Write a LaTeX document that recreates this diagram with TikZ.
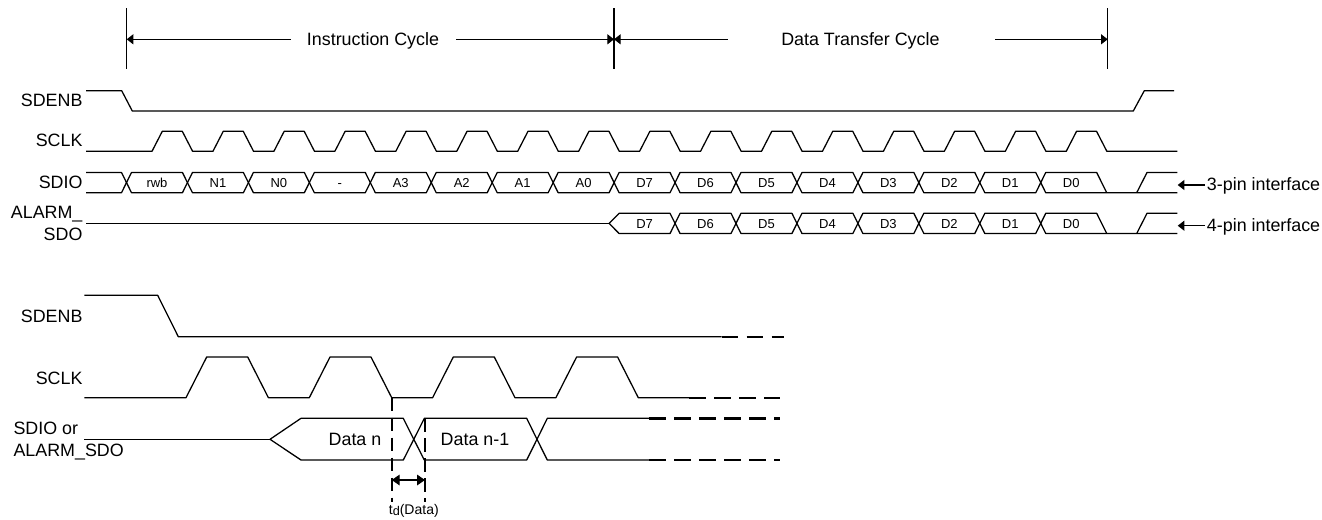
\documentclass[tikz,border=0pt]{standalone}
\usepackage{fontspec}
\setmainfont{Liberation Sans}
\usetikzlibrary{arrows.meta}
\begin{document}
\begin{tikzpicture}[x=0.75pt,y=-0.75pt,
  wave/.style={line width=0.95pt, line join=round},
  dsh/.style={line width=1.8pt, dash pattern=on 12.5pt off 6.25pt},
  dimarrow/.style={line width=0.95pt, -{Triangle[length=5pt,width=7.5pt]}},
  lbl/.style={font=\fontsize{13.4}{15.5}\selectfont, inner sep=0pt},
  bit/.style={font=\fontsize{9.75}{11}\selectfont, inner sep=0pt},
  tdl/.style={font=\fontsize{10.5}{12}\selectfont, inner sep=0pt}]
\useasboundingbox (0,0) rectangle (1322,519);

% ---------- top dimension lines ----------
\coordinate (v1t) at (126.7,8.3);  \coordinate (v1b) at (126.7,69.3);
\coordinate (v2t) at (614,8.3);    \coordinate (v2b) at (614,69.3);
\coordinate (v3t) at (1107.7,8.3); \coordinate (v3b) at (1107.7,69.3);
\draw[wave] (v1t) -- (v1b);
\draw[wave] (v2t) -- (v2b);
\draw[wave] (v3t) -- (v3b);
\coordinate (i1) at (126.7,39.3);
\coordinate (i1s) at (290.7,39.3);
\coordinate (i2s) at (456,39.3);
\coordinate (i2) at (614,39.3);
\coordinate (d1s) at (727.6,39.3);
\coordinate (d2s) at (995.4,39.3);
\coordinate (i3) at (1107.7,39.3);
\draw[dimarrow] (i1s) -- (i1);
\draw[dimarrow] (i2s) -- (i2);
\draw[dimarrow] (d1s) -- (i2);
\draw[dimarrow] (d2s) -- (i3);
\node[lbl,anchor=base] (ic) at (373,45.7) {Instruction Cycle};
\node[lbl,anchor=base] (dc) at (860.4,45.7) {Data Transfer Cycle};

% ---------- top labels ----------
\node[lbl,anchor=base east] (lsdenb) at (82.7,106) {SDENB};
\node[lbl,anchor=base east] (lsclk) at (82.7,146.7) {SCLK};
\node[lbl,anchor=base east] (lsdio) at (82.7,188.3) {SDIO};
\node[lbl,anchor=base east] (lalarm) at (82.7,218.3) {ALARM\_};
\node[lbl,anchor=base east] (lsdo) at (82.7,240) {SDO};

% ---------- SDENB ----------
\draw[wave] (86,90.7) -- (121.7,90.7) -- (132.3,111) -- (1133.3,111) -- (1144.3,90.7) -- (1174,90.7);

% ---------- SCLK ----------
\draw[wave] (86,151.3)
  foreach \k in {0,...,15} {
    -- ({152+60.95*\k},151.3) -- ({162.3+60.95*\k},131.3)
    -- ({182.3+60.95*\k},131.3) -- ({192.6+60.95*\k},151.3) }
  -- (1177.3,151.3);

% ---------- SDIO ----------
\draw[wave] (86,172.5) -- (121.5,172.5) -- (126.5,182.6) -- (121.5,192.7) -- (86,192.7);
\foreach \k/\t in {0/rwb,1/N1,2/N0,3/-,4/A3,5/A2,6/A1,7/A0,8/D7,9/D6,10/D5,11/D4,12/D3,13/D2,14/D1} {
  \pgfmathsetmacro\a{126.5+60.95*\k}
  \pgfmathsetmacro\b{\a+60.95}
  \draw[wave] (\a,182.6) -- ({\a+5},172.5) -- ({\b-5},172.5) -- (\b,182.6)
     -- ({\b-5},192.7) -- ({\a+5},192.7) -- cycle;
  \node[bit,anchor=base] (s\k) at ({(\a+\b)/2},187.2) {\t};
}
\pgfmathsetmacro\a{126.5+60.95*15}
\draw[wave] (\a,182.6) -- ({\a+5},172.5) -- (1096.7,172.5) -- (1106.7,192.7);
\draw[wave] (\a,182.6) -- ({\a+5},192.7) -- (1177.3,192.7);
\draw[wave] (1136.7,192.7) -- (1147,172.5) -- (1177.3,172.5);
\node[bit,anchor=base] (s15) at ({\a+30.5},187.2) {D0};

% ---------- ALARM_SDO ----------
\draw[wave] (86,223.4) -- (609.1,223.4);
\pgfmathsetmacro\a{126.5+60.95*8}
\pgfmathsetmacro\b{\a+60.95}
\draw[wave] ({\a-5},223.4) -- ({\a+5},213.3) -- ({\b-5},213.3) -- (\b,223.4)
   -- ({\b-5},233.5) -- ({\a+5},233.5) -- cycle;
\node[bit,anchor=base] (a8) at ({(\a+\b)/2},228) {D7};
\foreach \k/\t in {9/D6,10/D5,11/D4,12/D3,13/D2,14/D1} {
  \pgfmathsetmacro\a{126.5+60.95*\k}
  \pgfmathsetmacro\b{\a+60.95}
  \draw[wave] (\a,223.4) -- ({\a+5},213.3) -- ({\b-5},213.3) -- (\b,223.4)
     -- ({\b-5},233.5) -- ({\a+5},233.5) -- cycle;
  \node[bit,anchor=base] (a\k) at ({(\a+\b)/2},228) {\t};
}
\pgfmathsetmacro\a{126.5+60.95*15}
\draw[wave] (\a,223.4) -- ({\a+5},213.3) -- (1096.7,213.3) -- (1106.7,233.5);
\draw[wave] (\a,223.4) -- ({\a+5},233.5) -- (1177.3,233.5);
\draw[wave] (1136.7,233.5) -- (1147,213.3) -- (1177.3,213.3);
\node[bit,anchor=base] (a15) at ({\a+30.5},228) {D0};

% ---------- interface arrows ----------
\coordinate (p3s) at (1205,185);   \coordinate (p3e) at (1177.7,185);
\coordinate (p4s) at (1205,225.7); \coordinate (p4e) at (1177.7,225.7);
\draw[dimarrow] (p3s) -- (p3e);
\draw[dimarrow] (p4s) -- (p4e);
\node[lbl,anchor=base west] (t3) at (1206.7,190.5) {3-pin interface};
\node[lbl,anchor=base west] (t4) at (1206.7,231) {4-pin interface};

% ========== bottom timing ==========
\node[lbl,anchor=base east] (bsdenb) at (82.7,322.7) {SDENB};
\node[lbl,anchor=base east] (bsclk) at (82.7,384) {SCLK};
\node[lbl,anchor=base west] (bsdio) at (13.3,434) {SDIO or};
\node[lbl,anchor=base west] (balarm) at (13.3,456) {ALARM\_SDO};

% SDENB
\draw[wave] (84.3,295.3) -- (157.7,295.3) -- (178.3,336.7) -- (721.7,336.7);
\draw[dsh] (721.7,336.7) -- (784,336.7);

% SCLK
\draw[wave] (84.3,397.7)
  foreach \k in {0,...,3} {
    -- ({186+123.3*\k},397.7) -- ({206.7+123.3*\k},357)
    -- ({247.7+123.3*\k},357) -- ({268.4+123.3*\k},397.7) }
  -- (689.3,397.7);
\draw[dsh] (689.3,397.7) -- (780,397.7);

% SDIO or ALARM_SDO
\draw[wave] (84.3,439.3) -- (270,439.3);
\draw[wave] (270,439.3) -- (301,418.3) -- (403.3,418.3) -- (413.8,439.3)
   -- (403.3,460) -- (301,460) -- cycle;
\draw[wave] (413.8,439.3) -- (424.3,418.3) -- (526.7,418.3) -- (537,439.3)
   -- (526.7,460) -- (424.3,460) -- cycle;
\draw[wave] (537,439.3) -- (547.3,418.3) -- (649.3,418.3);
\draw[wave] (537,439.3) -- (547.3,460) -- (649.3,460);
\draw[dsh] (649.3,418.3) -- (780,418.3);
\draw[dsh] (649.3,460) -- (780,460);
\node[lbl,anchor=base] (dn) at (355,445.7) {Data n};
\node[lbl,anchor=base] (dn1) at (475,445.7) {Data n-1};

% td(Data)
\coordinate (m1t) at (391.7,397.7); \coordinate (m1b) at (391.7,502);
\coordinate (m2t) at (425,418.3);   \coordinate (m2b) at (425,502);
\draw[dsh, dash pattern=on 10pt off 5pt] (m1t) -- (m1b);
\draw[dsh, dash pattern=on 10pt off 5pt] (m2t) -- (m2b);
\coordinate (h1) at (391.7,480); \coordinate (h2) at (425,480);
\draw[line width=0.95pt, {Triangle[length=6pt,width=8pt]}-{Triangle[length=6pt,width=8pt]}] (h1) -- (h2);
\node[tdl,anchor=base] (td) at (413.8,514) {t\raisebox{-1pt}{\fontsize{9.5}{10}\selectfont d}(Data)};
\end{tikzpicture}
\end{document}
